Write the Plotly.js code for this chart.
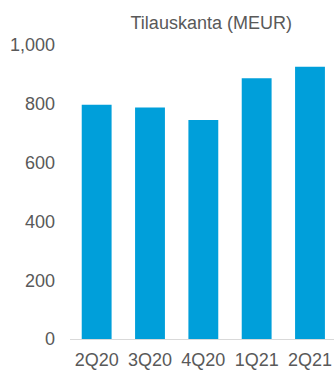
<!DOCTYPE html>
<html>
<head>
<meta charset="utf-8">
<script src="https://cdn.plot.ly/plotly-3.0.1.min.js"></script>
<style>
  html, body { margin: 0; padding: 0; background: #fff; }
  #chart { width: 334px; height: 372px; }
</style>
</head>
<body>
<div id="chart"></div>
<script>
// Order backlog per quarter, MEUR
const quarters = ['2Q20', '3Q20', '4Q20', '1Q21', '2Q21'];
const backlog = [797, 787, 745, 887, 926];
const yTicks = [0, 200, 400, 600, 800, 1000];
const yTickLabels = ['0', '200', '400', '600', '800', '1,000'];

const grey = '#595959';
const font = { family: 'Liberation Sans, Arial, sans-serif', size: 18, color: grey };

Plotly.newPlot('chart', [{
  type: 'bar',
  x: quarters,
  y: backlog,
  marker: { color: '#009fda' },
  hoverinfo: 'x+y'
}], {
  width: 334,
  height: 372,
  margin: { l: 70, r: 0, t: 45, b: 33 },
  paper_bgcolor: '#fff',
  plot_bgcolor: '#fff',
  font: font,
  bargap: 0.44,
  showlegend: false,
  title: {
    text: 'Tilauskanta (MEUR)',
    font: { family: font.family, size: 18, color: grey },
    x: 0.535, xref: 'paper', xanchor: 'center',
    y: 21, yref: 'container', yanchor: 'middle'
  },
  xaxis: {
    type: 'category',
    range: [-0.5, 4.45],
    showline: true,
    linecolor: '#d9d9d9',
    linewidth: 1,
    showgrid: false,
    zeroline: false,
    ticks: '',
    ticklabelstandoff: 4,
    tickfont: font
  },
  yaxis: {
    range: [0, 1000],
    tickvals: yTicks,
    ticktext: yTickLabels,
    showgrid: false,
    zeroline: false,
    showline: false,
    ticks: '',
    ticklabelstandoff: 14,
    tickfont: font
  }
}, { staticPlot: true });
</script>
</body>
</html>
